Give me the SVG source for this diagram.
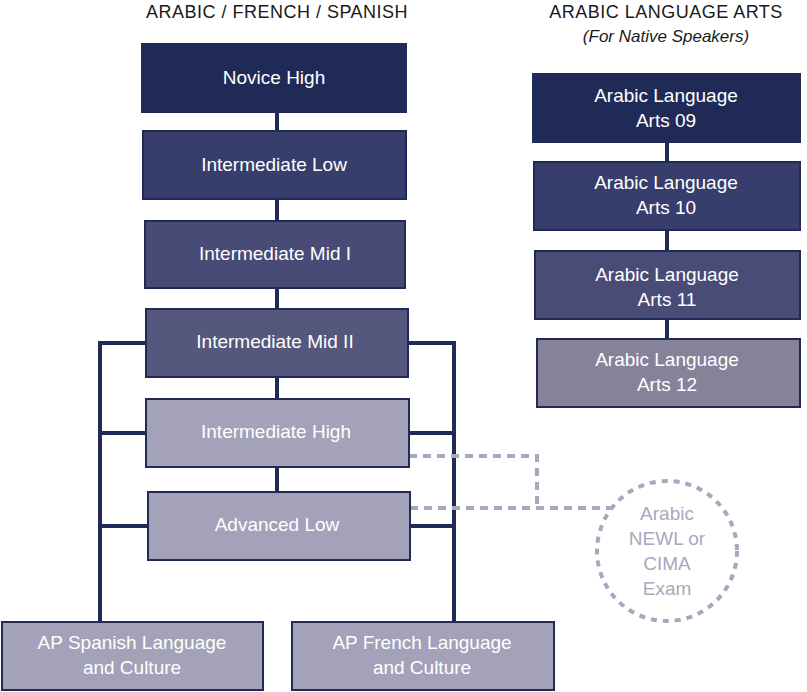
<svg xmlns="http://www.w3.org/2000/svg" width="807" height="692" viewBox="0 0 807 692">
<style>
.b{stroke:#1f2a57;stroke-width:2}
.t{font-family:"Liberation Sans",Arial,sans-serif;font-size:19px;fill:#fff;text-anchor:middle}
.h{font-family:"Liberation Sans",Arial,sans-serif;font-size:18px;fill:#1a1a1a;text-anchor:middle;letter-spacing:0.5px}
.c{stroke:#1f2a57;stroke-width:4;fill:none}
.d{stroke:#a9a7bd;stroke-width:4;fill:none;stroke-dasharray:8 6}
</style>
<rect width="807" height="692" fill="#fff"/>
<text class="h" x="277" y="18">ARABIC / FRENCH / SPANISH</text>
<text class="h" x="666" y="18">ARABIC LANGUAGE ARTS</text>
<text class="h" x="666" y="42" style="font-style:italic;font-size:17px;letter-spacing:0">(For Native Speakers)</text>
<g id="connectors">
<path class="c" d="M277 112V131M277 199V221M277 288V309M277 377V399M277 467V492"/>
<path class="c" d="M146 343H100V622M100 433H146M100 526H148M408 343H454V622M409 433H454M410 526H454"/>
<path class="c" d="M667 142V162M667 230V251M667 319V339"/>
<path class="d" d="M409 456H537V508M410 508H610"/>
</g>
<g id="novice-high"><rect class="b" x="142" y="44" width="264" height="68" fill="#1f2a57"/><text class="t" x="274" y="84">Novice High</text></g>
<g id="int-low"><rect class="b" x="143" y="131" width="263" height="68" fill="#373e6c"/><text class="t" x="274" y="171">Intermediate Low</text></g>
<g id="int-mid1"><rect class="b" x="145" y="221" width="260" height="67" fill="#474b76"/><text class="t" x="275" y="260">Intermediate Mid I</text></g>
<g id="int-mid2"><rect class="b" x="146" y="309" width="262" height="68" fill="#55577d"/><text class="t" x="275" y="348">Intermediate Mid II</text></g>
<g id="int-high"><rect class="b" x="146" y="399" width="263" height="68" fill="#a3a2b8"/><text class="t" x="276" y="438">Intermediate High</text></g>
<g id="adv-low"><rect class="b" x="148" y="492" width="262" height="68" fill="#a3a2b8"/><text class="t" x="277" y="531">Advanced Low</text></g>
<g id="ap-spanish"><rect class="b" x="2" y="622" width="261" height="68" fill="#a3a2b8"/><text class="t" x="132" y="649">AP Spanish Language</text><text class="t" x="132" y="674">and Culture</text></g>
<g id="ap-french"><rect class="b" x="292" y="622" width="262" height="68" fill="#a3a2b8"/><text class="t" x="422" y="649">AP French Language</text><text class="t" x="422" y="674">and Culture</text></g>
<g id="ala09"><rect class="b" x="533" y="74" width="267" height="68" fill="#1f2a57"/><text class="t" x="666" y="102">Arabic Language</text><text class="t" x="666" y="127">Arts 09</text></g>
<g id="ala10"><rect class="b" x="534" y="162" width="266" height="68" fill="#373e6c"/><text class="t" x="666" y="189">Arabic Language</text><text class="t" x="666" y="214">Arts 10</text></g>
<g id="ala11"><rect class="b" x="535" y="251" width="265" height="68" fill="#4a4c78"/><text class="t" x="667" y="281">Arabic Language</text><text class="t" x="667" y="306">Arts 11</text></g>
<g id="ala12"><rect class="b" x="537" y="339" width="263" height="68" fill="#858299"/><text class="t" x="667" y="366">Arabic Language</text><text class="t" x="667" y="391">Arts 12</text></g>
<g id="exam"><circle cx="667" cy="551" r="70" fill="#fff" stroke="#a9a7bd" stroke-width="4" stroke-dasharray="6 6"/>
<text class="t" style="fill:#a9a7bd" x="667" y="520">Arabic</text><text class="t" style="fill:#a9a7bd" x="667" y="545">NEWL or</text><text class="t" style="fill:#a9a7bd" x="667" y="570">CIMA</text><text class="t" style="fill:#a9a7bd" x="667" y="595">Exam</text></g>
</svg>
